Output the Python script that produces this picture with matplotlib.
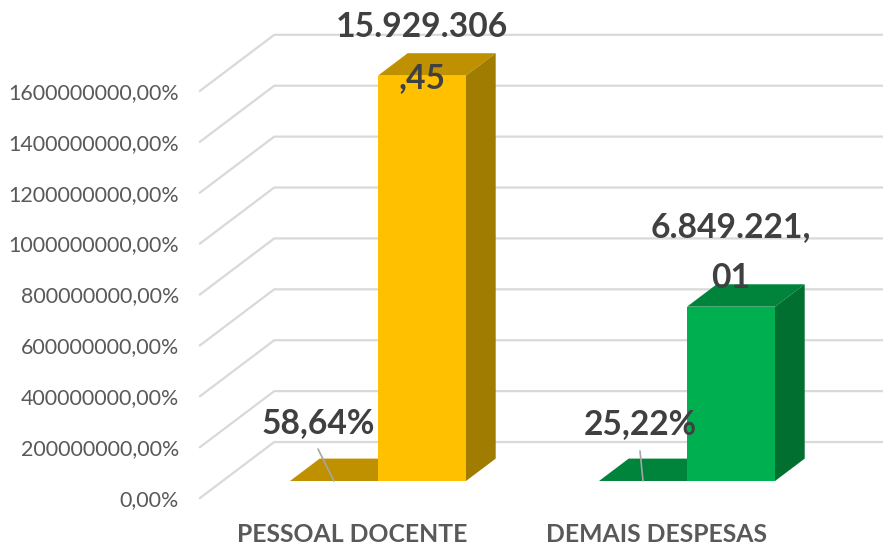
import matplotlib
matplotlib.use("Agg")
import matplotlib.pyplot as plt
from matplotlib.patches import Polygon

plt.rcParams['font.family'] = ['Lato', 'DejaVu Sans']

categories = ["PESSOAL DOCENTE", "DEMAIS DESPESAS"]
share_values = [0.5864, 0.2522]
amount_values = [15929306.45, 6849221.01]
share_labels = ["58,64%", "25,22%"]
amount_labels = ["15.929.306\n,45", "6.849.221,\n01"]
tick_values = [0, 2000000, 4000000, 6000000, 8000000, 10000000, 12000000, 14000000, 16000000]
tick_labels = ["0,00%", "200000000,00%", "400000000,00%", "600000000,00%", "800000000,00%",
               "1000000000,00%", "1200000000,00%", "1400000000,00%", "1600000000,00%"]

W, H = 883, 545
PX_X = 309.0             # pixels per category
PX_Y = 50.9 / 2000000.0  # pixels per value unit
X0, Y0 = 378.0, 481.0    # pixel of category 0 / value 0 on the bar plane

DX = 29.7 / PX_X         # x shift per unit depth
DY = 22.4 / PX_Y         # y shift per unit depth
BAR_W = 88.0 / PX_X
WALL_FRONT, WALL_BACK = -0.76, 1.74
WALL_X = -0.503

fig = plt.figure(figsize=(W / 100, H / 100), dpi=100)
ax = fig.add_axes([0, 0, 1, 1])
ax.set_xlim(-X0 / PX_X, (W - X0) / PX_X)
ax.set_ylim(-(H - Y0) / PX_Y, Y0 / PX_Y)
ax.axis("off")


def proj(x, y, d):
    return (x + d * DX, y + d * DY)


# walls: gridlines
x_right = (W + 5 - X0) / PX_X
for v, lab in zip(tick_values, tick_labels):
    pts = [proj(WALL_X, v, WALL_FRONT), proj(WALL_X, v, WALL_BACK),
           proj(x_right, v, WALL_BACK)]
    ax.plot([p[0] for p in pts], [p[1] for p in pts], color="#D9D9D9", lw=1.6,
            solid_joinstyle="miter", zorder=1)
    fx, fy = proj(WALL_X, v, WALL_FRONT)
    ax.annotate(lab, xy=(fx, fy), xytext=(-21, -2), textcoords="offset pixels",
                ha="right", va="center", fontsize=15.4, color="#595959", zorder=5)


def box(x0, x1, h, front, top, side, z):
    ax.add_patch(Polygon([proj(x0, h, 0), proj(x0, h, 1), proj(x1, h, 1), proj(x1, h, 0)],
                         closed=True, fc=top, ec="none", zorder=z))
    if h > 1e3:
        ax.add_patch(Polygon([proj(x1, 0, 0), proj(x1, 0, 1), proj(x1, h, 1), proj(x1, h, 0)],
                             closed=True, fc=side, ec="none", zorder=z))
        ax.add_patch(Polygon([proj(x0, 0, 0), proj(x1, 0, 0), proj(x1, h, 0), proj(x0, h, 0)],
                             closed=True, fc=front, ec="none", zorder=z + 0.1))


palette = [("#FFC000", "#BF9000", "#A07C00"), ("#00B050", "#00843B", "#006F2F")]
leader_offsets = [(-16, 32), (-3, 30)]
share_offsets = [(-60, 58), (-47, 57)]
amount_offsets = [(44, 23), (44, 54)]
cat_offsets = [-26, -30]

for i, cat in enumerate(categories):
    front, top, side = palette[i]
    box(i - BAR_W, i, share_values[i], front, top, side, 2)
    box(i, i + BAR_W, amount_values[i], front, top, side, 3)

    # leader line of the share label
    x_base = i - BAR_W + 44.0 / PX_X
    ax.annotate("", xy=(x_base, 0), xytext=leader_offsets[i], textcoords="offset pixels",
                arrowprops=dict(arrowstyle="-", color="#A6A6A6", lw=1.2,
                                shrinkA=0, shrinkB=0), zorder=4)

    ax.annotate(share_labels[i], xy=(i, 0), xytext=share_offsets[i], textcoords="offset pixels",
                ha="center", va="center", fontsize=24.2, fontweight="bold", color="#404040", zorder=6)
    ax.annotate(amount_labels[i], xy=(i, amount_values[i]), xytext=amount_offsets[i],
                textcoords="offset pixels", ha="center", va="center", fontsize=24.2,
                fontweight="bold", color="#404040", linespacing=1.72, zorder=6)
    ax.annotate(cat, xy=(i, 0), xytext=(cat_offsets[i], -53), textcoords="offset pixels",
                ha="center", va="center", fontsize=17.8, fontweight="bold", color="#595959", zorder=6)

fig.savefig("out.png", dpi=100)
